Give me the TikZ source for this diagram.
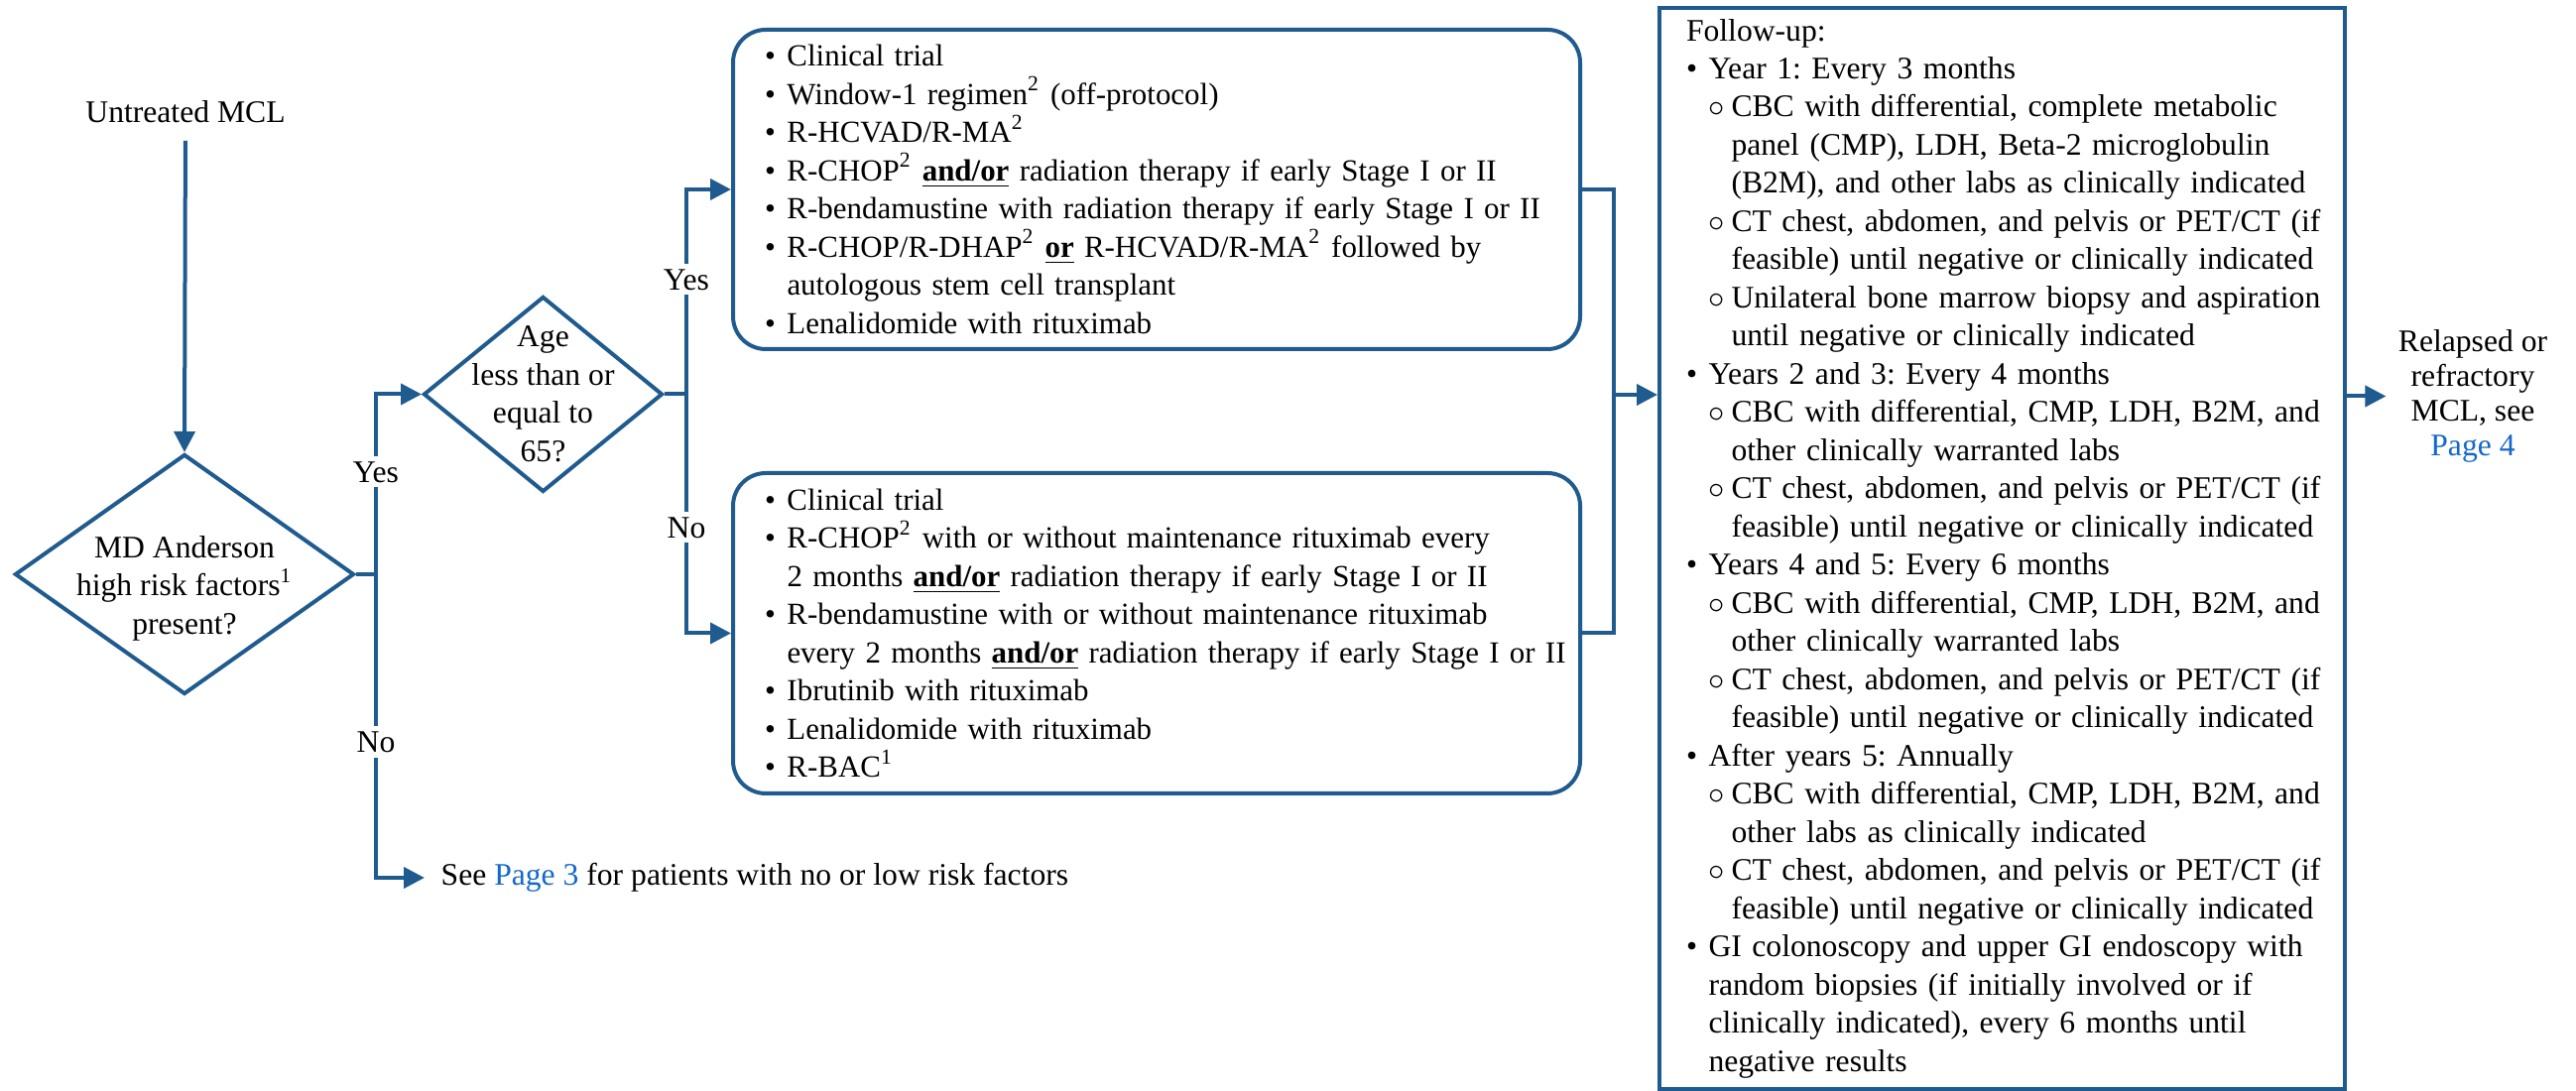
\documentclass[tikz,border=0pt]{standalone}
\usepackage{fontspec}
\setmainfont{Liberation Serif}
\usepackage{tikz}
\definecolor{flowblue}{RGB}{31,91,142}
\definecolor{linkblue}{RGB}{20,104,200}
\usetikzlibrary{shapes.geometric,arrows.meta}
\frenchspacing

\newcommand{\fn}[1]{\textsuperscript{#1}}
\newcommand{\hi}[1]{\underline{\textbf{#1}}}
\newcommand{\pg}[1]{\textcolor{linkblue}{#1}}
\newcommand{\bl}[1]{\mbox{\makebox[2.25mm][l]{\textbullet}#1}}
\newcommand{\cl}[1]{\mbox{\hspace*{2.25mm}#1}}
\newcommand{\sbl}[1]{\mbox{\hspace*{2.25mm}\makebox[2.3mm][l]{$\circ$}#1}}
\newcommand{\scl}[1]{\mbox{\hspace*{4.55mm}#1}}

\begin{document}
\begin{tikzpicture}[x=0.1mm, y=-0.1mm,
        every node/.style={font=\fontsize{9}{10.95}\selectfont},
        line/.style={draw=flowblue, line width=0.4mm},
        arr/.style={line, -{Triangle[length=2.1mm,width=2.1mm]}},
        decision/.style={diamond, line, inner sep=0pt},
        therapy/.style={line, rounded corners=3.3mm, align=left, text width=79mm,
            inner xsep=3.2mm, inner ysep=0.5mm, minimum width=85.4mm,
            font=\fontsize{8.8}{10.95}\selectfont},
        lbl/.style={fill=white, inner xsep=0.5mm, inner ysep=0.5mm}]
        \useasboundingbox (0,0) rectangle (2597,1100);

        \node[inner ysep=1.7mm] (start) at (187,113) {Untreated MCL};
        \node[decision, minimum width=34.2mm, minimum height=24.2mm,
            label={[align=center, yshift=-1.4mm]center:MD Anderson\\high risk factors\fn{1}\\present?}]
            (risk) at (186,579) {};
        \node[decision, minimum width=24.1mm, minimum height=19.7mm,
            label={[align=center]center:Age\\less than or\\equal to\\65?}]
            (age) at (547.5,397.5) {};
        \node[anchor=west, inner xsep=1.6mm] (see) at (428,885)
            {See \pg{Page 3} for patients with no or low risk factors};

        \node[therapy, minimum height=32.2mm] (young) at (1166,191) {%
            \bl{Clinical trial}\\
            \bl{Window-1 regimen\fn{2} (off-protocol)}\\
            \bl{R-HCVAD/R-MA\fn{2}}\\
            \bl{R-CHOP\fn{2} \hi{and/or} radiation therapy if early Stage I or II}\\
            \bl{R-bendamustine with radiation therapy if early Stage I or II}\\
            \bl{R-CHOP/R-DHAP\fn{2} \hi{or} R-HCVAD/R-MA\fn{2} followed by}\\
            \cl{autologous stem cell transplant}\\
            \bl{Lenalidomide with rituximab}};
        \node[therapy, minimum height=32.3mm] (old) at (1166,638.5) {%
            \bl{Clinical trial}\\
            \bl{R-CHOP\fn{2} with or without maintenance rituximab every}\\
            \cl{2 months \hi{and/or} radiation therapy if early Stage I or II}\\
            \bl{R-bendamustine with or without maintenance rituximab}\\
            \cl{every 2 months \hi{and/or} radiation therapy if early Stage I or II}\\
            \bl{Ibrutinib with rituximab}\\
            \bl{Lenalidomide with rituximab}\\
            \bl{R-BAC\fn{1}}};

        \node[line, align=left, text width=63.7mm, inner xsep=2.7mm, inner ysep=0.5mm,
            minimum width=69.1mm, minimum height=109mm] (follow) at (2018.5,553) {%
            \mbox{Follow-up:}\\
            \bl{Year 1: Every 3 months}\\
            \sbl{CBC with differential, complete metabolic}\\
            \scl{panel (CMP), LDH, Beta-2 microglobulin}\\
            \scl{(B2M), and other labs as clinically indicated}\\
            \sbl{CT chest, abdomen, and pelvis or PET/CT (if}\\
            \scl{feasible) until negative or clinically indicated}\\
            \sbl{Unilateral bone marrow biopsy and aspiration}\\
            \scl{until negative or clinically indicated}\\
            \bl{Years 2 and 3: Every 4 months}\\
            \sbl{CBC with differential, CMP, LDH, B2M, and}\\
            \scl{other clinically warranted labs}\\
            \sbl{CT chest, abdomen, and pelvis or PET/CT (if}\\
            \scl{feasible) until negative or clinically indicated}\\
            \bl{Years 4 and 5: Every 6 months}\\
            \sbl{CBC with differential, CMP, LDH, B2M, and}\\
            \scl{other clinically warranted labs}\\
            \sbl{CT chest, abdomen, and pelvis or PET/CT (if}\\
            \scl{feasible) until negative or clinically indicated}\\
            \bl{After years 5: Annually}\\
            \sbl{CBC with differential, CMP, LDH, B2M, and}\\
            \scl{other labs as clinically indicated}\\
            \sbl{CT chest, abdomen, and pelvis or PET/CT (if}\\
            \scl{feasible) until negative or clinically indicated}\\
            \bl{GI colonoscopy and upper GI endoscopy with}\\
            \cl{random biopsies (if initially involved or if}\\
            \cl{clinically indicated), every 6 months until}\\
            \cl{negative results}};

        \node[align=center, font=\fontsize{9}{9.96}\selectfont] (relapse) at (2493,399.5)
            {Relapsed or\\refractory\\MCL, see\\\pg{Page 4}};

        \coordinate (split1) at (379,579);
        \coordinate (split2) at (692,397.5);
        \coordinate (merge) at (1627,398);

        \draw[arr] (start) -- (risk.north);
        \draw[line] (risk.east) -- (split1);
        \draw[arr] (split1) |- (age.west);
        \draw[arr] (split1) |- (see.west);
        \draw[line] (age.east) -- (split2);
        \draw[arr] (split2) |- (young.west);
        \draw[arr] (split2) |- (old.west);
        \draw[line] (young.east) -| (merge);
        \draw[line] (old.east) -| (merge);
        \draw[arr] (merge) -- (merge -| follow.west);
        \draw[arr] (follow.east |- relapse.west) -- (relapse.west);

        \node[lbl] (yes1) at (379,476) {Yes};
        \node[lbl] (no1) at (379,748) {No};
        \node[lbl] (yes2) at (692,282) {Yes};
        \node[lbl] (no2) at (692,532) {No};
    \end{tikzpicture}
\end{document}
